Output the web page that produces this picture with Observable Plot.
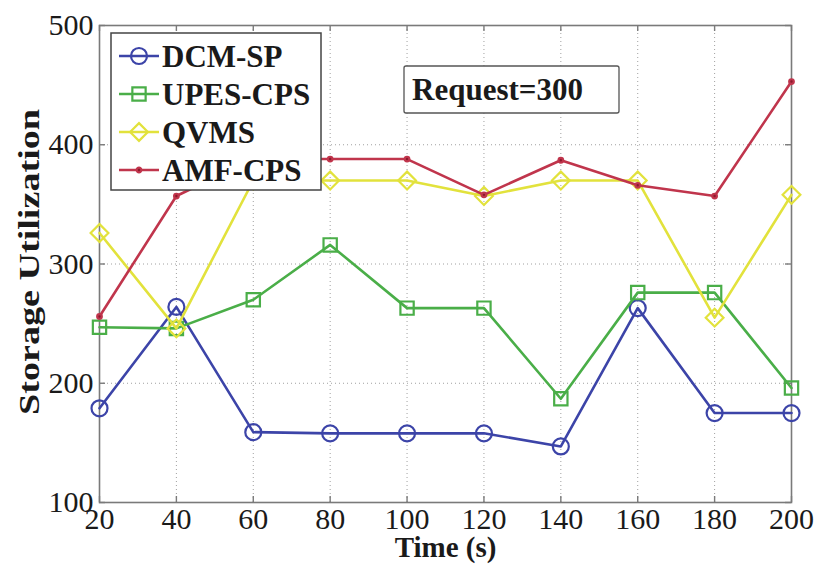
<!DOCTYPE html>
<html>
<head>
<meta charset="utf-8">
<script src="https://cdn.jsdelivr.net/npm/d3@7"></script>
<script src="https://cdn.jsdelivr.net/npm/@observablehq/plot@0.6"></script>
<style>
  html, body { margin: 0; padding: 0; background: white; }
  #chart { position: relative; width: 816px; height: 569px; }
  #chart svg, #chart svg text { font-family: "Liberation Serif", "Times New Roman", serif !important; }
</style>
</head>
<body>
<div id="chart"></div>
<script>
const times = [20, 40, 60, 80, 100, 120, 140, 160, 180, 200];
const dcmSP   = [179, 264, 159, 158, 158, 158, 147, 263, 175, 175];
const upesCPS = [247, 246, 270, 316, 263, 263, 187, 276, 276, 196];
const qvms    = [326, 246, 370, 370, 370, 357, 370, 370, 255, 358];
const amfCPS  = [256, 357, 388, 388, 388, 358, 387, 366, 357, 453];
const seriesNames = ["DCM-SP", "UPES-CPS", "QVMS", "AMF-CPS"];
const xTicks = [20, 40, 60, 80, 100, 120, 140, 160, 180, 200];
const yTicks = [100, 200, 300, 400, 500];
const xLabel = "Time (s)";
const yLabel = "Storage Utilization";
const annotation = "Request=300";

const seriesValues = [dcmSP, upesCPS, qvms, amfCPS];
const styles = {
  "DCM-SP":   {color: "#3c44a8", symbol: "circle",   r: 8,   fill: "none"},
  "UPES-CPS": {color: "#4aae48", symbol: "square",   r: 7.5, fill: "none"},
  "QVMS":     {color: "#e2e23c", symbol: "diamond2", r: 8,   fill: "none"},
  "AMF-CPS":  {color: "#c0354c", symbol: "circle",   r: 2.3, fill: "#8a1a2c"}
};
const FONT = "Liberation Serif";

const data = [];
seriesNames.forEach((s, i) => times.forEach((t, j) => data.push({series: s, t, v: seriesValues[i][j]})));

const marks = [
  Plot.gridX(xTicks, {stroke: "#a0a0a0", strokeOpacity: 1, strokeDasharray: "1,3", strokeWidth: 1}),
  Plot.gridY(yTicks, {stroke: "#a0a0a0", strokeOpacity: 1, strokeDasharray: "1,3", strokeWidth: 1}),
  Plot.frame({stroke: "#7a7a7a", strokeWidth: 1.6}),
  Plot.ruleX(xTicks, {stroke: "#7a7a7a", strokeWidth: 1.4, insetTop: 471}),
  Plot.ruleX(xTicks, {stroke: "#7a7a7a", strokeWidth: 1.4, insetBottom: 471}),
  Plot.ruleY(yTicks, {stroke: "#7a7a7a", strokeWidth: 1.4, insetRight: 686}),
  Plot.ruleY(yTicks, {stroke: "#7a7a7a", strokeWidth: 1.4, insetLeft: 686}),
  Plot.axisX(xTicks, {tickSize: 0, tickPadding: 5, fontSize: 30, label: null, fill: "#1a1a1a"}),
  Plot.axisY(yTicks, {tickSize: 0, tickPadding: 6, fontSize: 30, label: null, fill: "#1a1a1a"}),
  Plot.text([xLabel], {frameAnchor: "bottom", dy: 54, fontSize: 29, fontWeight: "bold", fill: "#1a1a1a"})
];
seriesNames.forEach(s => {
  const st = styles[s];
  const d = data.filter(e => e.series === s);
  marks.push(Plot.line(d, {x: "t", y: "v", stroke: st.color, strokeWidth: 2.6}));
  marks.push(Plot.dot(d, {x: "t", y: "v", symbol: st.symbol, r: st.r, stroke: st.color, strokeWidth: 2.2, fill: st.fill}));
});

const chart = Plot.plot({
  width: 816,
  height: 569,
  marginLeft: 99,
  marginRight: 25,
  marginTop: 25,
  marginBottom: 67,
  style: {fontFamily: FONT, background: "white"},
  x: {domain: [20, 200]},
  y: {domain: [100, 500]},
  marks
});
document.getElementById("chart").appendChild(chart);

const svg = d3.select(chart);

// Y axis title (condensed, stretched like the original)
svg.append("text")
  .attr("transform", "translate(28,262) rotate(-90)")
  .attr("x", -153).attr("y", 0).attr("dy", "0.35em")
  .attr("text-anchor", "start")
  .attr("font-size", 30).attr("font-weight", "bold").attr("fill", "#1a1a1a")
  .attr("textLength", 306).attr("lengthAdjust", "spacingAndGlyphs")
  .text(yLabel);

// Legend
const lg = svg.append("g").attr("text-anchor", "start");
lg.append("rect").attr("x", 111).attr("y", 33).attr("width", 210).attr("height", 157)
  .attr("fill", "white").attr("stroke", "#444").attr("stroke-width", 1.5);
const symMap = {circle: d3.symbolCircle, square: d3.symbolSquare, diamond2: d3.symbolDiamond2};
seriesNames.forEach((s, i) => {
  const st = styles[s];
  const y = 56 + i * 38;
  const row = lg.append("g");
  row.append("line").attr("x1", 119).attr("x2", 159).attr("y1", y).attr("y2", y)
    .attr("stroke", st.color).attr("stroke-width", 2.6);
  row.append("path").attr("d", d3.symbol(symMap[st.symbol], Math.PI * st.r * st.r)())
    .attr("transform", `translate(139,${y})`)
    .attr("stroke", st.color).attr("stroke-width", 2.2).attr("fill", st.fill);
  row.append("text").attr("x", 162).attr("y", y).attr("dy", "0.35em").attr("text-anchor", "start")
    .attr("font-size", 31).attr("font-weight", "bold").attr("fill", "#1a1a1a").text(s);
});

// Annotation box
const ag = svg.append("g").attr("text-anchor", "start");
ag.append("rect").attr("x", 404).attr("y", 66).attr("width", 215).attr("height", 47)
  .attr("fill", "white").attr("stroke", "#555").attr("stroke-width", 1.3).attr("rx", 2);
ag.append("text").attr("x", 412).attr("y", 89).attr("dy", "0.35em").attr("text-anchor", "start")
  .attr("font-size", 31).attr("font-weight", "bold").attr("fill", "#1a1a1a").text(annotation);
</script>
</body>
</html>
